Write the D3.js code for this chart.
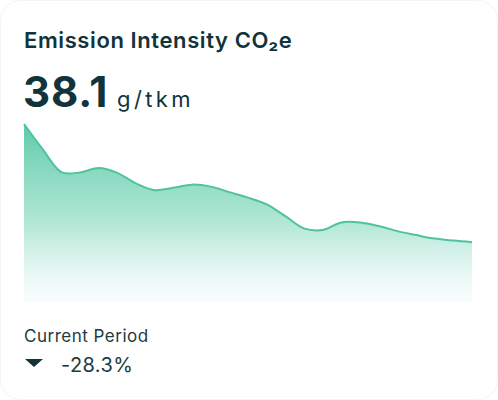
<!DOCTYPE html>
<html>
<head>
<meta charset="utf-8">
<script src="https://cdn.jsdelivr.net/npm/d3@7/dist/d3.min.js"></script>
<style>
  html, body { margin: 0; padding: 0; background: #ffffff; }
  svg { display: block; }
  text { font-family: Inter, "Noto Sans", sans-serif; }
</style>
</head>
<body>
<svg id="chart" width="498" height="400"></svg>
<script>
// ---- data ----
const categories = d3.range(1, 26).map(i => "W" + i);
const intensity = [53.1, 49.9, 47.0, 46.95, 47.5, 46.9, 45.55, 44.7, 45.0, 45.4, 45.15, 44.45,
                   43.75, 42.9, 41.4, 39.85, 39.65, 40.6, 40.6, 40.15, 39.5, 39.0, 38.55, 38.3, 38.1];
const titleText = "Emission Intensity CO₂e";
const currentValue = "38.1";
const unitText = "g/tkm";
const periodLabel = "Current Period";
const changeText = "-28.3%";
const yDomain = [30.5, 53.1];

// ---- drawing ----
const svg = d3.select("#chart");
const W = 498, H = 400;

svg.append("rect")
  .attr("x", 0.5).attr("y", 0.5).attr("width", W - 1).attr("height", H - 1)
  .attr("rx", 20).attr("ry", 20)
  .attr("fill", "#ffffff").attr("stroke", "#f3f4f4").attr("stroke-width", 1);

const defs = svg.append("defs");
const grad = defs.append("linearGradient")
  .attr("id", "areaGrad").attr("x1", 0).attr("y1", 0).attr("x2", 0).attr("y2", 1);
grad.append("stop").attr("offset", "0%").attr("stop-color", "#55c7a4").attr("stop-opacity", 0.95);
grad.append("stop").attr("offset", "55%").attr("stop-color", "#8fdcc3").attr("stop-opacity", 0.7);
grad.append("stop").attr("offset", "100%").attr("stop-color", "#f4fafd").attr("stop-opacity", 0.4);

const x = d3.scalePoint().domain(categories).range([24, 472]);
const y = d3.scaleLinear().domain(yDomain).range([302, 124]);

const data = categories.map((c, i) => ({ c, v: intensity[i] }));

const curve = d3.curveCatmullRom.alpha(0.5);
const area = d3.area()
  .x(d => x(d.c)).y0(y(yDomain[0])).y1(d => y(d.v))
  .curve(curve);
const line = d3.line()
  .x(d => x(d.c)).y(d => y(d.v))
  .curve(curve);

svg.append("path").datum(data).attr("d", area).attr("fill", "url(#areaGrad)");
svg.append("path").datum(data).attr("d", line)
  .attr("fill", "none").attr("stroke", "#4ec3a0").attr("stroke-width", 2);

// texts
const dark = "#12333a";
svg.append("text").attr("x", 24).attr("y", 48)
  .attr("font-size", 22).attr("font-weight", 600).attr("letter-spacing", 0.6).attr("fill", dark)
  .text(titleText);

svg.append("text").attr("x", 23).attr("y", 107).attr("fill", dark)
  .attr("font-size", 42).attr("font-weight", 700).attr("letter-spacing", 0.8)
  .text(currentValue);
svg.append("text").attr("x", 117).attr("y", 107).attr("fill", dark)
  .attr("font-size", 22).attr("font-weight", 400).attr("letter-spacing", 3.4)
  .text(unitText);

svg.append("text").attr("x", 24).attr("y", 342)
  .attr("font-size", 17).attr("font-weight", 400).attr("letter-spacing", 0.5).attr("fill", "#1d3b40")
  .text(periodLabel);

svg.append("path")
  .attr("d", d3.line()([[25, 359], [43, 359], [34, 367]]) + "Z")
  .attr("fill", dark);

svg.append("text").attr("x", 61).attr("y", 372)
  .attr("font-size", 20).attr("font-weight", 400).attr("letter-spacing", 0.4).attr("fill", "#1d3b40")
  .text(changeText);
</script>
</body>
</html>
